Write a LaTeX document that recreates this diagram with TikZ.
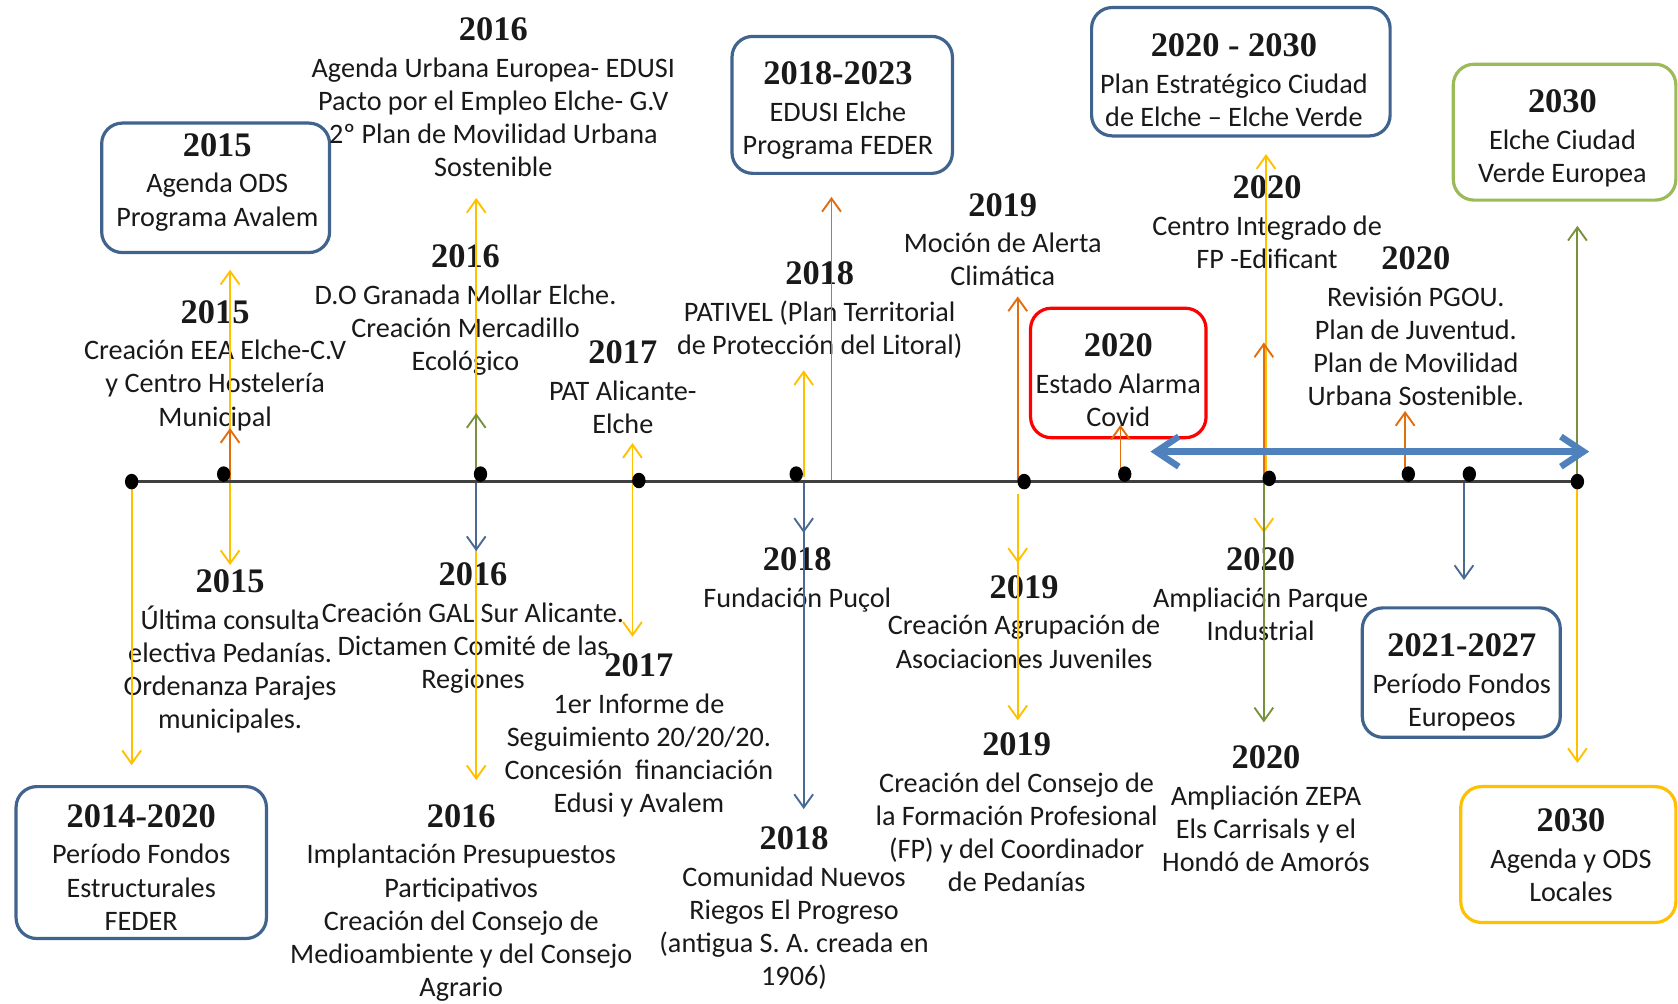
\documentclass[tikz,border=0pt]{standalone}
\usepackage{fontspec}
\newfontfamily\bodyfont{Carlito}
\newfontfamily\yearfont{Liberation Serif}
\usetikzlibrary{arrows.meta, shapes.geometric}
\definecolor{cyellow}{HTML}{FFC000}
\definecolor{corange}{HTML}{E46C0A}
\definecolor{colive}{HTML}{76923C}
\definecolor{cslate}{HTML}{4A6A94}
\definecolor{cframe}{HTML}{41648F}
\definecolor{cbar}{HTML}{4F81BD}
\definecolor{cgreen}{HTML}{9BBB59}
\definecolor{cred}{HTML}{FF0000}
\lineskiplimit=-20pt
\newcommand\yearline[1]{{\yearfont\bfseries\fontsize{18.3}{17.6}\selectfont #1}\\[2pt]}
\tikzset{
    eventnode/.style = {align=center, inner sep=0pt, anchor=north, text=black!90,
        font=\bodyfont\fontsize{15}{17.6}\selectfont},
    framebox/.style = {inner sep=0pt, line width=1.7pt, rounded corners=11pt},
    frame_blue/.style = {framebox, draw=cframe},
    frame_green/.style = {framebox, draw=cgreen},
    frame_red/.style = {framebox, draw=cred},
    frame_yellow/.style = {framebox, draw=cyellow},
    dotnode/.style = {ellipse, fill=black, inner sep=0pt, minimum width=0.25cm, minimum height=0.29cm},
    conn/.style = {line width=1pt, -{Straight Barb[length=7pt,width=10pt]}},
    timeline/.style = {line width=1.3pt, black!75},
    bar/.style = {line width=3.4pt, cbar, {Straight Barb[length=12pt,width=16pt]}-{Straight Barb[length=12pt,width=16pt]}}
}
\begin{document}
\begin{tikzpicture}[x=0.02cm, y=-0.02cm]
\useasboundingbox (0,0) rectangle (1568,938);

% framed periods
\node[frame_blue, minimum width=4.26cm, minimum height=2.42cm] (ods15_frame) at (201.5,175.5) {};
\node[eventnode] (ods15) at (203,124.1) {\yearline{2015}Agenda ODS\\Programa Avalem};
\node[frame_blue, minimum width=4.12cm, minimum height=2.56cm] (edusi_frame) at (787,98) {};
\node[eventnode] (edusi) at (783,57.1) {\yearline{2018-2023}EDUSI Elche\\Programa FEDER};
\node[frame_blue, minimum width=5.58cm, minimum height=2.4cm] (plan_frame) at (1159.5,67) {};
\node[eventnode] (plan) at (1153,31.1) {\yearline{2020 - 2030}Plan Estratégico Ciudad\\de Elche – Elche Verde};
\node[frame_green, minimum width=4.16cm, minimum height=2.54cm] (verde_frame) at (1462,123.5) {};
\node[eventnode] (verde) at (1460,83.1) {\yearline{2030}Elche Ciudad\\Verde Europea};
\node[frame_red, minimum width=3.28cm, minimum height=2.42cm] (covid_frame) at (1045,348.5) {};
\node[eventnode] (covid) at (1045,311.1) {\yearline{2020}Estado Alarma\\Covid};
\node[frame_blue, minimum width=4.68cm, minimum height=2.84cm] (feder_frame) at (132,806) {};
\node[eventnode] (feder) at (132,751.1) {\yearline{2014-2020}Período Fondos\\Estructurales\\FEDER};
\node[frame_blue, minimum width=3.7cm, minimum height=2.42cm] (fondos_frame) at (1365.5,628.5) {};
\node[eventnode] (fondos) at (1366,592.1) {\yearline{2021-2027}Período Fondos\\Europeos};
\node[frame_yellow, minimum width=4.02cm, minimum height=2.54cm] (agenda_frame) at (1465.5,798.5) {};
\node[eventnode] (agenda) at (1468,755.1) {\yearline{2030}Agenda y ODS\\Locales};

% events above the line
\node[eventnode] (urbana) at (461,16.1) {\yearline{2016}Agenda Urbana Europea- EDUSI\\Pacto por el Empleo Elche- G.V\\2º Plan de Movilidad Urbana\\Sostenible};
\node[eventnode] (mollar) at (435,228.1) {\yearline{2016}D.O Granada Mollar Elche.\\Creación Mercadillo\\Ecológico};
\node[eventnode] (eea) at (201,280.1) {\yearline{2015}Creación EEA Elche-C.V\\y Centro Hostelería\\Municipal};
\node[eventnode] (pat) at (582,318.1) {\yearline{2017}PAT Alicante-\\Elche};
\node[eventnode] (pativel) at (766,244.1) {\yearline{2018}PATIVEL (Plan Territorial\\de Protección del Litoral)};
\node[eventnode] (mocion) at (937,180.1) {\yearline{2019}Moción de Alerta\\Climática};
\node[eventnode] (edificant) at (1184,164.1) {\yearline{2020}Centro Integrado de\\FP -Edificant};
\node[eventnode] (pgou) at (1323,230.1) {\yearline{2020}Revisión PGOU.\\Plan de Juventud.\\Plan de Movilidad\\Urbana Sostenible.};

% events below the line
\node[eventnode] (pedanias) at (215,532.1) {\yearline{2015}Última consulta\\electiva Pedanías.\\Ordenanza Parajes\\municipales.};
\node[eventnode] (gal) at (442,525.1) {\yearline{2016}Creación GAL Sur Alicante.\\Dictamen Comité de las\\Regiones};
\node[eventnode] (informe) at (597,610.1) {\yearline{2017}1er Informe de\\Seguimiento 20/20/20.\\Concesión~ financiación\\Edusi y Avalem};
\node[eventnode] (presup) at (431,751.1) {\yearline{2016}Implantación Presupuestos\\Participativos\\Creación del Consejo de\\Medioambiente y del Consejo\\Agrario};
\node[eventnode] (pucol) at (745,511.1) {\yearline{2018}Fundación Puçol};
\node[eventnode] (riegos) at (742,772.1) {\yearline{2018}Comunidad Nuevos\\Riegos El Progreso\\(antigua S. A. creada en\\1906)};
\node[eventnode] (juveniles) at (957,537.1) {\yearline{2019}Creación Agrupación de\\Asociaciones Juveniles};
\node[eventnode] (consejo) at (950,684.1) {\yearline{2019}Creación del Consejo de\\la Formación Profesional\\(FP) y del Coordinador\\de Pedanías};
\node[eventnode] (parque) at (1178,511.1) {\yearline{2020}Ampliación Parque\\Industrial};
\node[eventnode] (zepa) at (1183,696.1) {\yearline{2020}Ampliación ZEPA\\Els Carrisals y el\\Hondó de Amorós};

% connectors: name/x/from/to/colour
\foreach \n/\x/\ya/\yb/\c in {
    a1/215/448/252/cyellow, a3/445/442/185/cyellow, a5/591/450/414/cyellow, a6/751/446/346/cyellow, a10/1183/447/144/cyellow,
    b1/123/450/715/cyellow, b2/215/450/528/cyellow, b4/445/450/729/cyellow, b5/591/450/595/cyellow,
    b8/951/462/526/cyellow, b9/951/462/673/cyellow, b10/1181/450/498/cyellow, b13/1474/451/713/cyellow,
    a2/215/450/400/corange, a7/777/450/184/corange, a8/951/450/277/corange, a9/1047/445/397/corange,
    a11/1181/447/320/corange, a12/1313/445/384/corange,
    a4/445/442/386/colive, a13/1474/451/211/colive, b11/1181/450/675/colive,
    b3/445/450/515/cslate, b6/751/450/498/cslate, b7/751/450/756/cslate, b12/1368/450/542/cslate}{
    \coordinate (\n_from) at (\x,\ya);
    \coordinate (\n_to) at (\x,\yb);
    \draw[conn, \c] (\n_from) -- (\n_to);
}

% time line
\coordinate (line_l) at (123,450);
\coordinate (line_r) at (1476,450);
\draw[timeline] (line_l) -- (line_r);
\node[dotnode] (d1) at (123,450) {};
\node[dotnode] (d2) at (209,443) {};
\node[dotnode] (d3) at (449,443) {};
\node[dotnode] (d4) at (597,449) {};
\node[dotnode] (d5) at (744,443) {};
\node[dotnode] (d6) at (957,450) {};
\node[dotnode] (d7) at (1051,443) {};
\node[dotnode] (d8) at (1186,447) {};
\node[dotnode] (d9) at (1316,443) {};
\node[dotnode] (d10) at (1373,443) {};
\node[dotnode] (d11) at (1474,450) {};

\coordinate (bar_l) at (1075,422);
\coordinate (bar_r) at (1485,422);
\draw[bar] (bar_l) -- (bar_r);
\end{tikzpicture}
\end{document}
